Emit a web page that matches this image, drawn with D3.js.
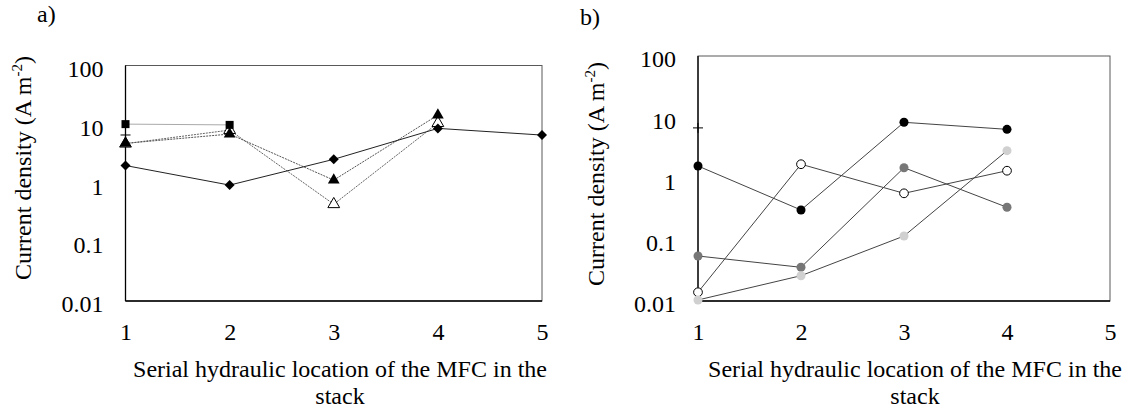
<!DOCTYPE html>
<html><head><meta charset="utf-8">
<script src="https://cdn.jsdelivr.net/npm/d3@7"></script>
<style>body{margin:0;background:#fff}svg{display:block}</style>
</head><body><svg id="c" width="1142" height="409"></svg>
<script>
// ---- data ----
const xTicks = [1, 2, 3, 4, 5];
const yTicks = [0.01, 0.1, 1, 10, 100];
const yTickLabels = ["0.01", "0.1", "1", "10", "100"];

// panel a
const aDiamond = [2.0, 0.93, 2.55, 8.55, 6.58];
const aSquare = [10.1, 9.8];
const aTriFilled = [4.76, 6.85, 1.13, 14.4];
const aTriOpen = [4.7, 8.0, 0.44, 10.5];
const aPlus = [6.6];

// panel b
const bBlack = [1.6, 0.306, 8.27, 6.35];
const bOpen = [0.0139, 1.71, 0.573, 1.34];
const bDark = [0.0543, 0.0355, 1.5, 0.339];
const bLight = [0.0104, 0.0259, 0.115, 2.85];
const bPlus = [6.7];

const FONT = "Liberation Serif";
const FS = 24;
const svg = d3.select("#c");

function txt(sel) {
  return sel.style("font-family", FONT).style("font-size", FS + "px").attr("fill", "#000");
}

function panel(cfg) {
  const g = svg.append("g");
  const x = d3.scaleLinear().domain([1, 5]).range([cfg.left, cfg.right]);
  const y = d3.scaleLog().domain([0.01, 100]).range([cfg.bottom, cfg.top]);

  g.append("rect").attr("x", cfg.left).attr("y", cfg.top)
    .attr("width", cfg.right - cfg.left).attr("height", cfg.bottom - cfg.top)
    .attr("fill", "none").attr("stroke", "#595959").attr("stroke-width", 1);
  g.append("line").attr("x1", cfg.left).attr("x2", cfg.left).attr("y1", cfg.top).attr("y2", cfg.bottom)
    .attr("stroke", "#000").attr("stroke-width", 1.3);
  g.append("line").attr("x1", cfg.left).attr("x2", cfg.right).attr("y1", cfg.bottom).attr("y2", cfg.bottom)
    .attr("stroke", "#000").attr("stroke-width", 1.3);

  const yAxis = d3.axisLeft(y).tickValues(yTicks).tickSize(0).tickPadding(22)
    .tickFormat((d, i) => yTickLabels[i]);
  const ya = g.append("g").attr("transform", `translate(${cfg.left},0)`).call(yAxis);
  ya.attr("font-family", null).attr("font-size", null);
  ya.select(".domain").remove();
  txt(ya.selectAll("text")).attr("dy", "0.45em");

  const xAxis = d3.axisBottom(x).tickValues(xTicks).tickSize(0).tickPadding(22).tickFormat(d3.format("d"));
  const xa = g.append("g").attr("transform", `translate(0,${cfg.bottom})`).call(xAxis);
  xa.attr("font-family", null).attr("font-size", null);
  xa.select(".domain").remove();
  txt(xa.selectAll("text")).attr("dy", "0.71em");

  txt(g.append("text").attr("x", cfg.labelX).attr("y", cfg.labelY)).text(cfg.label);

  const yt = txt(g.append("text").attr("transform", `translate(${cfg.ytX},${cfg.ytY}) rotate(-90)`)
    .attr("text-anchor", "middle"));
  yt.append("tspan").text("Current density (A m");
  yt.append("tspan").attr("dy", -9).style("font-size", "15px").text("-2");
  yt.append("tspan").attr("dy", 9).text(")");

  const xt = txt(g.append("text").attr("text-anchor", "middle"));
  xt.append("tspan").attr("x", cfg.xtX).attr("y", 377).text("Serial hydraulic location of the MFC in the");
  xt.append("tspan").attr("x", cfg.xtX).attr("y", 404).text("stack");

  return { g, x, y };
}

function series(p, vals, o) {
  const pts = vals.map((v, i) => [i + 1, v]);
  const line = d3.line().x(d => p.x(d[0])).y(d => p.y(d[1]));
  if (pts.length > 1) {
    p.g.append("path").attr("d", line(pts)).attr("fill", "none")
      .attr("stroke", o.line).attr("stroke-width", o.lw || 1)
      .attr("stroke-dasharray", o.dash || null);
  }
  const sym = d3.symbol().type(o.symbol).size(o.size);
  p.g.selectAll(null).data(pts).enter().append("path")
    .attr("transform", d => `translate(${p.x(d[0])},${p.y(d[1])})${o.rot ? " rotate(" + o.rot + ")" : ""}`)
    .attr("d", sym)
    .attr("fill", o.fill).attr("stroke", o.stroke || "none").attr("stroke-width", o.sw || 1);
}

function plus(p, vals) {
  p.g.selectAll(null).data(vals).enter().append("path")
    .attr("d", (d, i) => {
      const cx = p.x(i + 1), cy = p.y(d);
      return `M${cx - 5},${cy}H${cx + 5}M${cx},${cy - 5}V${cy + 5}`;
    })
    .attr("stroke", "#000").attr("stroke-width", 1);
}

// ---- panel a ----
const pa = panel({ left: 125.5, right: 542, top: 65.5, bottom: 301, label: "a)", labelX: 37, labelY: 22, ytX: 31, ytY: 168, xtX: 340 });
plus(pa, aPlus);
series(pa, aTriOpen, { symbol: d3.symbolTriangle, size: 60, fill: "#fff", stroke: "#000", line: "#666", dash: "2,1" });
series(pa, aTriFilled, { symbol: d3.symbolTriangle, size: 60, fill: "#000", line: "#555", dash: "2,1" });
series(pa, aSquare, { symbol: d3.symbolSquare, size: 64, fill: "#000", line: "#aaa" });
series(pa, aDiamond, { symbol: d3.symbolSquare, size: 50, rot: 45, fill: "#000", line: "#222" });

// ---- panel b ----
const pb = panel({ left: 698, right: 1110, top: 56, bottom: 301, label: "b)", labelX: 580, labelY: 25, ytX: 604, ytY: 174, xtX: 915 });
plus(pb, bPlus);
series(pb, bBlack, { symbol: d3.symbolCircle, size: 64, fill: "#000", line: "#444" });
series(pb, bDark, { symbol: d3.symbolCircle, size: 64, fill: "#777", line: "#444" });
series(pb, bOpen, { symbol: d3.symbolCircle, size: 60, fill: "#fff", stroke: "#000", line: "#444" });
series(pb, bLight, { symbol: d3.symbolCircle, size: 64, fill: "#d0d0d0", line: "#444" });
</script></body></html>
